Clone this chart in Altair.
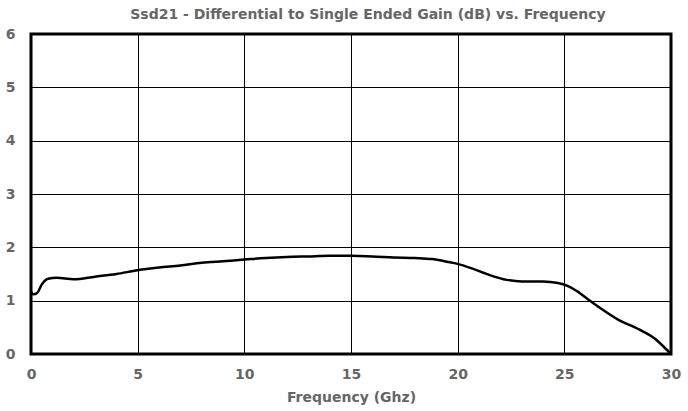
import altair as alt
import pandas as pd

freq = [0.0, 0.1, 0.3, 0.5, 0.8, 1.2, 2.0, 3.0, 4.0, 5.0, 6.0, 7.0, 8.0, 9.0, 10.0,
        11.0, 12.0, 13.0, 14.0, 15.0, 16.0, 17.0, 18.0, 18.8, 19.5, 20.0, 20.7, 21.5,
        22.3, 23.0, 24.0, 24.7, 25.2, 25.7, 26.2, 26.8, 27.5, 28.5, 29.2, 29.6, 30.0]
gain = [1.17, 1.12, 1.15, 1.30, 1.41, 1.43, 1.40, 1.45, 1.50, 1.57, 1.62, 1.66, 1.71, 1.74, 1.77,
        1.80, 1.82, 1.83, 1.84, 1.84, 1.83, 1.81, 1.80, 1.78, 1.73, 1.69, 1.60, 1.48,
        1.39, 1.36, 1.36, 1.33, 1.27, 1.15, 1.00, 0.83, 0.65, 0.46, 0.30, 0.16, 0.0]

df = pd.DataFrame({"freq": freq, "gain": gain})

gray = "#666666"
font = "DejaVu Sans"

chart = alt.Chart(df).mark_line(color="black", strokeWidth=2.5, interpolate="monotone", clip=True).encode(
    x=alt.X("freq:Q", scale=alt.Scale(domain=[0, 30], nice=False),
            axis=alt.Axis(title="Frequency (Ghz)", values=[0, 5, 10, 15, 20, 25, 30],
                          grid=True, gridColor="black", gridWidth=1, gridOpacity=1,
                          ticks=False, domain=False, labelPadding=13,
                          labelFont=font, labelFontSize=14, labelFontWeight="bold", labelColor=gray,
                          titleFont=font, titleFontSize=14, titleFontWeight="bold", titleColor=gray,
                          titlePadding=9, labelFlush=False)),
    y=alt.Y("gain:Q", scale=alt.Scale(domain=[0, 6], nice=False),
            axis=alt.Axis(title=None, values=[0, 1, 2, 3, 4, 5, 6],
                          grid=True, gridColor="black", gridWidth=1, gridOpacity=1,
                          ticks=False, domain=False, labelPadding=16,
                          labelFont=font, labelFontSize=14, labelFontWeight="bold", labelColor=gray,
                          labelFlush=False)),
).properties(
    width=640, height=320,
    title=alt.TitleParams("Ssd21 - Differential to Single Ended Gain (dB) vs. Frequency",
                          font=font, fontSize=14, fontWeight="bold", color=gray,
                          anchor="start", dx=125, offset=5),
    autosize=alt.AutoSizeParams(type="none"),
    padding={"left": 31, "top": 34, "right": 17, "bottom": 57},
).configure_view(stroke="black", strokeWidth=3)

chart.save("out.html", embed_options={"renderer": "svg", "actions": False})
